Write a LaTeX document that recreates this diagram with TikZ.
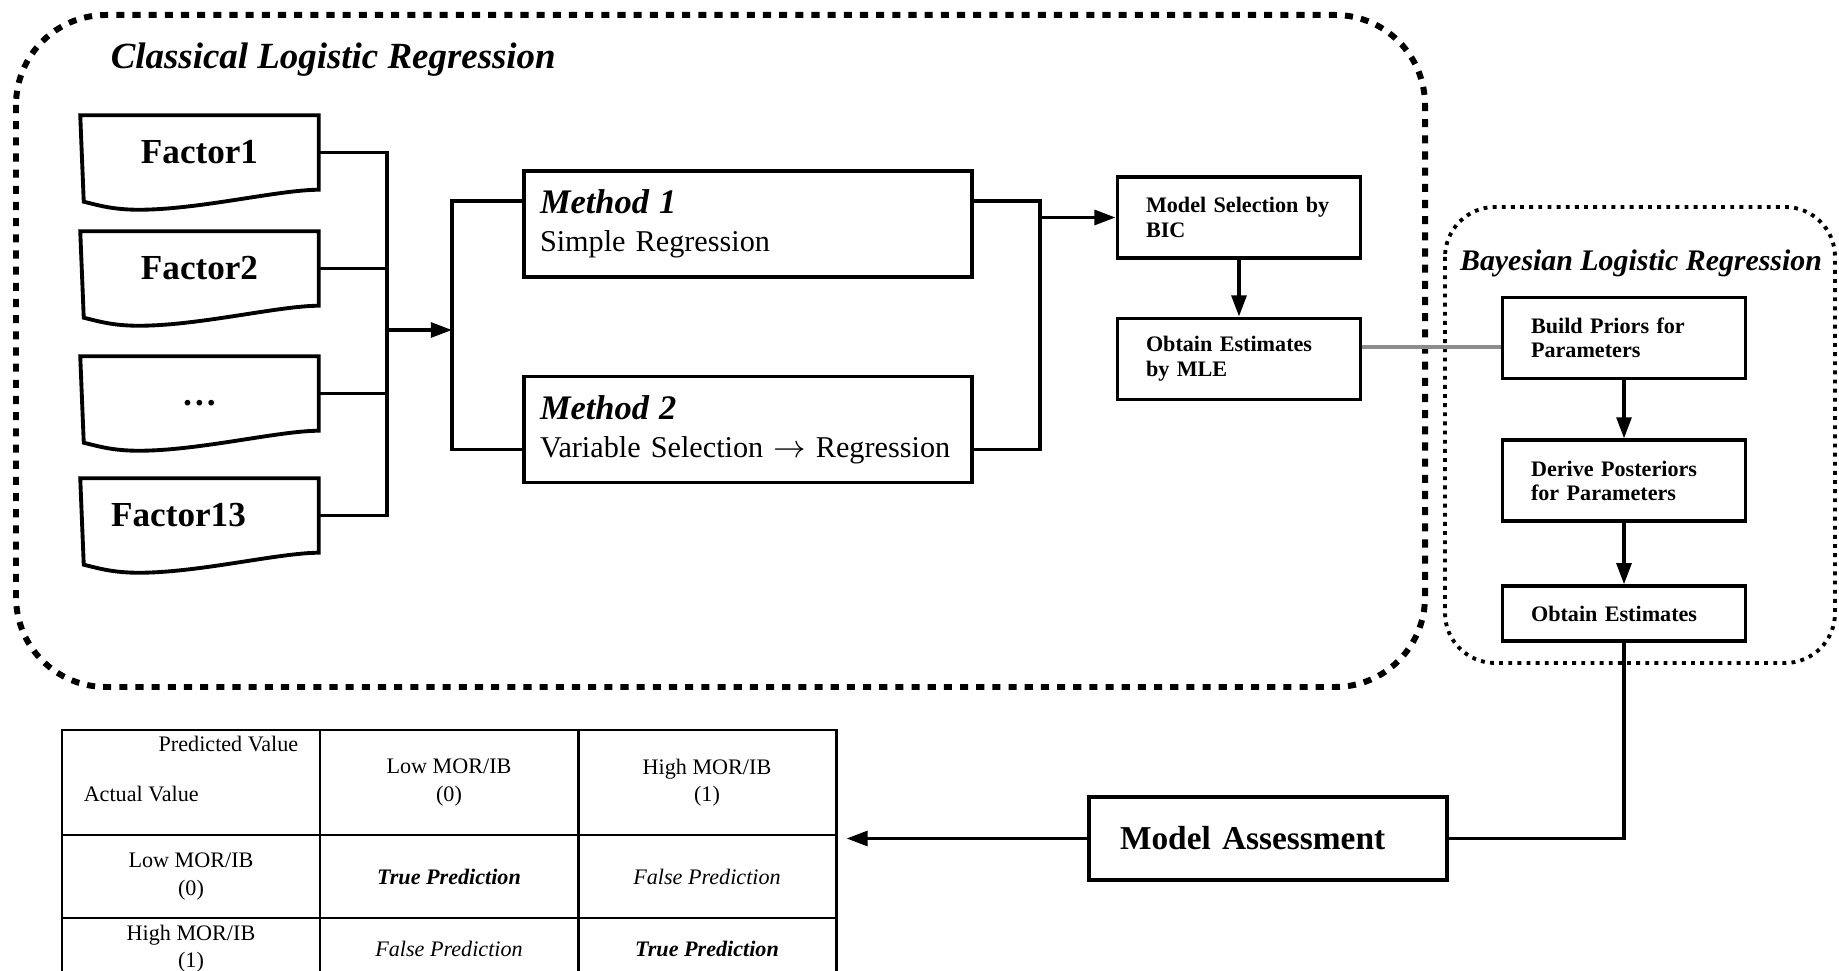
\documentclass[tikz,border=0pt]{standalone}
\usepackage{fontspec}
\setmainfont{Liberation Serif}
\usepackage{tikz}
\usetikzlibrary{positioning}
\usetikzlibrary{arrows.meta}
\tikzset{%
  block/.style     = {draw, line width=1.1pt, rectangle, inner sep=0pt, align=left},
  method/.style    = {block, minimum width=4.48cm, minimum height=1.06cm, text width=4.16cm,
    font=\fontsize{8.6}{10.8}\selectfont},
  stage/.style     = {block, minimum width=2.43cm, minimum height=0.81cm, text width=1.86cm,
    font=\fontsize{6.3}{7}\selectfont\bfseries},
  factor/.style    = {rectangle, minimum width=2.35cm, minimum height=0.71cm, inner sep=0pt,
    font=\fontsize{10}{12}\selectfont\bfseries}, % document shape, outline by \factorshape
  cell/.style      = {draw, line width=0.85pt, rectangle, minimum width=2.58cm, inner sep=0pt,
    align=center, font=\fontsize{6.3}{7.7}\selectfont},
  tabtext/.style   = {inner sep=0pt, font=\fontsize{6.3}{7.7}\selectfont},
  heading/.style   = {inner sep=0pt, font=\fontsize{10.5}{12}\selectfont\bfseries\itshape},
  bigdots/.style   = {line width=1.7pt, dash pattern=on 2.3pt off 2.3pt},
  smalldots/.style = {line width=1.1pt, dash pattern=on 1.1pt off 1.5pt}
}
% wavy bottom of the factor boxes
\newcommand{\factorshape}[1]{%
  \draw[line width=1.1pt] (#1.north west) -- (#1.north east) -- (#1.south east)
    .. controls +(-0.4,0) and +(0.6,0) .. ++(-1.8,-0.2)
    .. controls +(-0.27,0) and +(0.13,-0.03) .. ++(-0.55,0.08) -- cycle;}

\begin{document}
\begin{tikzpicture}[line width=1pt, >={Triangle[length=6pt,width=4.2pt]}]
  \useasboundingbox (0,0) rectangle (18.39,-9.71);

  % classical logistic regression
  \draw[bigdots, rounded corners=0.9cm] (0.16,-0.15) rectangle (14.25,-6.87);
  \draw node at (1.09,-0.60) [heading, anchor=west] (clr) {Classical Logistic Regression};

  \draw node at (1.995,-1.525) [factor] (f1) {Factor1};
  \draw node at (1.995,-2.685) [factor] (f2) {Factor2};
  \draw node at (1.995,-3.935) [factor] (f3) {\smash{\raisebox{-0.12cm}{\dots}}};
  \draw node at (1.995,-5.155) [factor] (f13) {Factor13\hspace*{0.42cm}};
  \foreach \f in {f1,f2,f3,f13} \factorshape{\f};

  \draw node at (7.48,-2.24) [method] (m1)
    {{\fontsize{9.8}{10.8}\selectfont\bfseries\itshape Method 1}\\Simple Regression};
  \draw node at (7.48,-4.295) [method] (m2)
    {{\fontsize{9.8}{10.8}\selectfont\bfseries\itshape Method 2}\\\mbox{Variable Selection $\rightarrow$ Regression}};

  \draw node at (12.39,-2.175) [stage] (ms) {Model Selection by\\BIC};
  \draw node at (12.39,-3.59) [stage] (mle) {Obtain Estimates\\by MLE};

  \coordinate (busA) at (3.87,-3.30);
  \coordinate (busB) at (4.52,-3.30);
  \coordinate (busC) at (10.40,-2.175);

  \foreach \f in {f1,f2,f3,f13} \draw (\f.east) -| (busA);
  \draw[->] (busA) -- (busB);
  \draw (busB) |- ([yshift=0.23cm]m1.west);
  \draw (busB) |- ([yshift=-0.20cm]m2.west);
  \draw ([yshift=0.23cm]m1.east) -| (busC);
  \draw ([yshift=-0.20cm]m2.east) -| (busC);
  \draw[->] (busC) -- (ms.west);
  \draw[->] (ms) -- (mle);

  % bayesian logistic regression
  \draw[smalldots, rounded corners=0.5cm] (14.45,-2.07) rectangle (18.35,-6.63);
  \draw node at (16.41,-2.63) [heading, font=\fontsize{8.5}{10}\selectfont\bfseries\itshape] (blr)
    {Bayesian Logistic Regression};
  \draw node at (16.24,-3.38) [stage] (prior) {Build Priors for\\Parameters};
  \draw node [stage, below=0.58cm of prior] (post) {Derive Posteriors\\for Parameters};
  \draw node [stage, below=0.61cm of post, minimum height=0.55cm] (est) {Obtain Estimates};
  \draw[->] (prior) -- (post);
  \draw[->] (post) -- (est);
  \draw[line width=1.1pt, black!45] ([yshift=0.12cm]mle.east) -- ([yshift=-0.09cm]prior.west);

  % assessment
  \draw node at (12.68,-8.385) [block, minimum width=3.58cm, minimum height=0.83cm, text width=2.96cm,
    font=\fontsize{9.5}{11}\selectfont\bfseries] (ma) {Model Assessment};
  \draw (est) |- (ma);

  % confusion table
  \draw node at (1.91,-7.825) [cell, minimum height=1.05cm] (c11) {};
  \draw node at (4.49,-7.825) [cell, minimum height=1.05cm] (c12) {Low MOR/IB\\(0)};
  \draw node at (7.07,-7.825) [cell, minimum height=1.05cm] (c13) {High MOR/IB\\(1)};
  \draw node at (1.91,-8.765) [cell, minimum height=0.83cm] (c21) {Low MOR/IB\\(0)};
  \draw node at (4.49,-8.765) [cell, minimum height=0.83cm] (c22) {\bfseries\itshape True Prediction};
  \draw node at (7.07,-8.765) [cell, minimum height=0.83cm] (c23) {\itshape False Prediction};
  \draw node at (1.91,-9.49) [cell, minimum height=0.62cm] (c31) {High MOR/IB\\(1)};
  \draw node at (4.49,-9.49) [cell, minimum height=0.62cm] (c32) {\itshape False Prediction};
  \draw node at (7.07,-9.49) [cell, minimum height=0.62cm] (c33) {\bfseries\itshape True Prediction};
  \draw node at (3.00,-7.44) [tabtext, anchor=east] (pv) {Predicted Value};
  \draw node at (0.82,-7.94) [tabtext, anchor=west] (av) {Actual Value};

  \coordinate (tabr) at ([xshift=0.09cm]c13.south east);
  \draw[->] (ma) -- (ma.west -| tabr);
\end{tikzpicture}
\end{document}
